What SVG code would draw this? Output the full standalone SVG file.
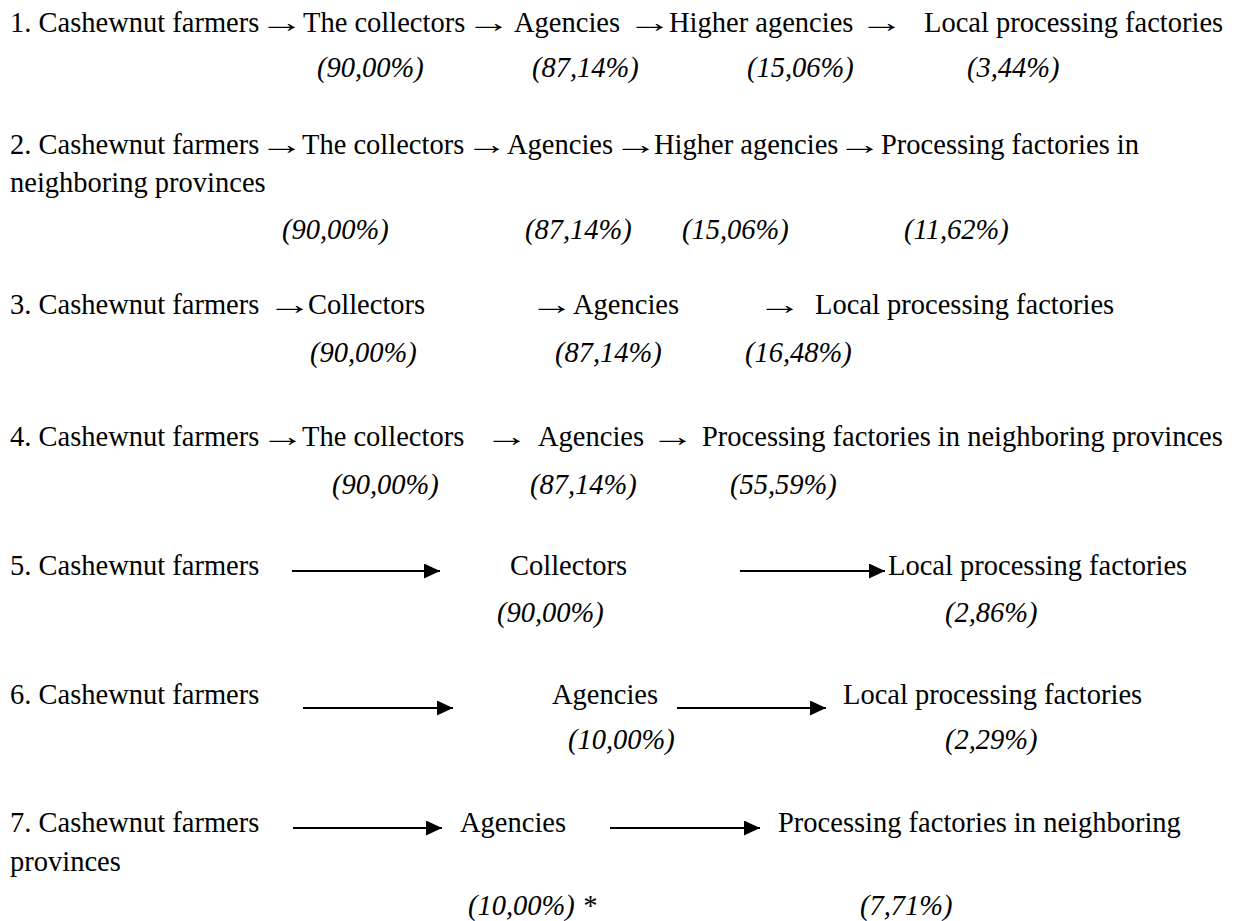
<svg xmlns="http://www.w3.org/2000/svg" width="1237" height="921" viewBox="0 0 1237 921">
<defs>
<style>
text{font-family:"Liberation Serif","Times New Roman","DejaVu Serif",serif;font-size:28.5px;fill:#000}
.p{font-style:italic}
.a{font-size:28px}
.c line{stroke:#000;stroke-width:2}
</style>
<marker id="ah" markerUnits="userSpaceOnUse" markerWidth="16" markerHeight="15" refX="16" refY="7.5" orient="auto">
<path d="M0,0 L16,7.5 L0,15 z" fill="#000"/>
</marker>
</defs>
<rect width="1237" height="921" fill="#fff"/>
<g id="row1">
<text x="10" y="32">1. Cashewnut farmers</text>
<text class="a" transform="translate(259,32) scale(1.6,1)">→</text>
<text x="303" y="32">The collectors</text>
<text class="a" transform="translate(466,32) scale(1.6,1)">→</text>
<text x="514" y="32">Agencies</text>
<text class="a" transform="translate(627,32) scale(1.6,1)">→</text>
<text x="669" y="32">Higher agencies</text>
<text class="a" transform="translate(859,32) scale(1.6,1)">→</text>
<text x="924" y="32">Local processing factories</text>
<text class="p" x="317" y="77">(90,00%)</text>
<text class="p" x="532" y="77">(87,14%)</text>
<text class="p" x="747" y="77">(15,06%)</text>
<text class="p" x="967" y="77">(3,44%)</text>
</g>
<g id="row2">
<text x="10" y="154">2. Cashewnut farmers</text>
<text class="a" transform="translate(259,154) scale(1.6,1)">→</text>
<text x="302" y="154">The collectors</text>
<text class="a" transform="translate(466,154) scale(1.5,1)">→</text>
<text x="507" y="154">Agencies</text>
<text class="a" transform="translate(613,154) scale(1.6,1)">→</text>
<text x="654" y="154">Higher agencies</text>
<text class="a" transform="translate(837,154) scale(1.6,1)">→</text>
<text x="881" y="154">Processing factories in</text>
<text x="10" y="192">neighboring provinces</text>
<text class="p" x="282" y="239">(90,00%)</text>
<text class="p" x="525" y="239">(87,14%)</text>
<text class="p" x="682" y="239">(15,06%)</text>
<text class="p" x="904" y="239">(11,62%)</text>
</g>
<g id="row3">
<text x="10" y="314">3. Cashewnut farmers</text>
<text class="a" transform="translate(267,314) scale(1.6,1)">→</text>
<text x="308" y="314">Collectors</text>
<text class="a" transform="translate(529,314) scale(1.6,1)">→</text>
<text x="573" y="314">Agencies</text>
<text class="a" transform="translate(757,314) scale(1.6,1)">→</text>
<text x="815" y="314">Local processing factories</text>
<text class="p" x="310" y="362">(90,00%)</text>
<text class="p" x="555" y="362">(87,14%)</text>
<text class="p" x="745" y="362">(16,48%)</text>
</g>
<g id="row4">
<text x="10" y="446">4. Cashewnut farmers</text>
<text class="a" transform="translate(260,446) scale(1.6,1)">→</text>
<text x="302" y="446">The collectors</text>
<text class="a" transform="translate(484,446) scale(1.6,1)">→</text>
<text x="538" y="446">Agencies</text>
<text class="a" transform="translate(650,446) scale(1.6,1)">→</text>
<text x="702" y="446">Processing factories in neighboring provinces</text>
<text class="p" x="332" y="494">(90,00%)</text>
<text class="p" x="530" y="494">(87,14%)</text>
<text class="p" x="730" y="494">(55,59%)</text>
</g>
<g id="row5">
<text x="10" y="575">5. Cashewnut farmers</text>
<text x="510" y="575">Collectors</text>
<text x="888" y="575">Local processing factories</text>
<text class="p" x="497" y="622">(90,00%)</text>
<text class="p" x="945" y="622">(2,86%)</text>
</g>
<g id="row6">
<text x="10" y="704">6. Cashewnut farmers</text>
<text x="552" y="704">Agencies</text>
<text x="843" y="704">Local processing factories</text>
<text class="p" x="568" y="749">(10,00%)</text>
<text class="p" x="945" y="749">(2,29%)</text>
</g>
<g id="row7">
<text x="10" y="832">7. Cashewnut farmers</text>
<text x="460" y="832">Agencies</text>
<text x="778" y="832">Processing factories in neighboring</text>
<text x="10" y="871">provinces</text>
<text class="p" x="468" y="915">(10,00%) *</text>
<text class="p" x="860" y="915">(7,71%)</text>
</g>
<g id="connectors" class="c">
<line x1="292" y1="571" x2="440" y2="571" marker-end="url(#ah)"/>
<line x1="740" y1="571" x2="885" y2="571" marker-end="url(#ah)"/>
<line x1="303" y1="708" x2="453" y2="708" marker-end="url(#ah)"/>
<line x1="677" y1="708" x2="826" y2="708" marker-end="url(#ah)"/>
<line x1="293" y1="828" x2="442" y2="828" marker-end="url(#ah)"/>
<line x1="610" y1="828" x2="760" y2="828" marker-end="url(#ah)"/>
</g>
</svg>
